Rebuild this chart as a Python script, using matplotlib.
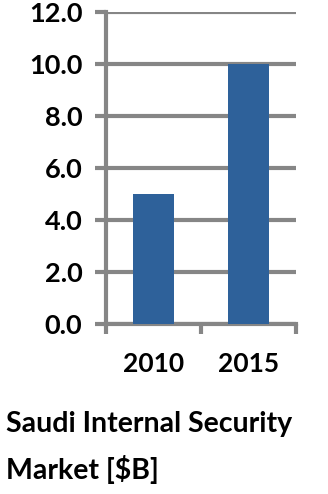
import matplotlib.pyplot as plt

# data
years = ['2010', '2015']
market_size = [5.0, 10.0]
y_ticks = [0, 2, 4, 6, 8, 10, 12]

plt.rcParams['font.family'] = ['Lato', 'DejaVu Sans']
plt.rcParams['font.weight'] = 'bold'

fig = plt.figure(figsize=(3.28, 4.94), dpi=100)
W, H = 328, 494
# plot area in pixels: x 106..296, y 12..324
ax = fig.add_axes([106 / W, 1 - 324 / H, 190 / W, 312 / H])

grey = '#868686'
ax.bar(range(len(years)), market_size, width=0.43, color='#2E619A', zorder=3)

ax.set_xlim(-0.5, 1.5)
ax.set_ylim(0, 12)
ax.set_yticks(y_ticks)
ax.set_yticklabels([f'{v:.1f}' for v in y_ticks])
ax.yaxis.grid(True, color=grey, linewidth=3, zorder=0)

# category separators as ticks on the x axis
ax.set_xticks([-0.5, 0.5, 1.5])
ax.set_xticklabels([])
ax.set_xticks([0, 1], minor=True)
ax.set_xticklabels(years, minor=True)
ax.tick_params(axis='x', which='major', length=7, width=3, color=grey, direction='out')
ax.tick_params(axis='x', which='minor', length=0, pad=20, labelsize=19)
ax.tick_params(axis='y', length=8, width=3, color=grey, pad=9, labelsize=19.5)

for side in ['top', 'right']:
    ax.spines[side].set_visible(False)
for side in ['left', 'bottom']:
    ax.spines[side].set_color(grey)
    ax.spines[side].set_linewidth(3)

fig.text(6 / W, 1 - 424 / H, 'Saudi Internal Security', fontsize=20.5,
         fontweight='bold', va='center', ha='left')
fig.text(6 / W, 1 - 469 / H, 'Market [$B]', fontsize=20.5,
         fontweight='bold', va='center', ha='left')

plt.savefig('out.png', dpi=100)
